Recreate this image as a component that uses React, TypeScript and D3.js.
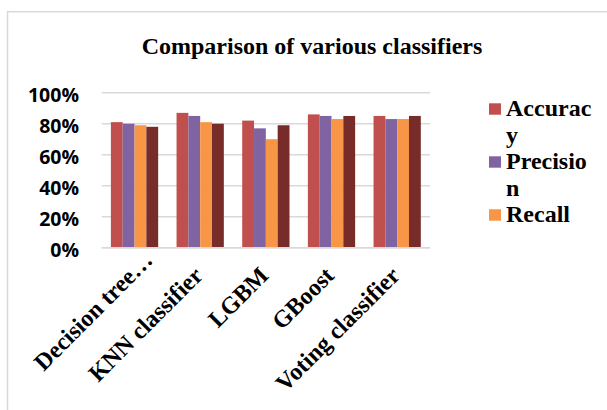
import React, { useMemo } from "react";
import * as d3 from "d3";

const W = 607;
const H = 410;

const categories = ["Decision tree\u2026", "KNN classifier", "LGBM", "GBoost", "Voting classifier"];
const seriesNames = ["Accuracy", "Precision", "Recall", "F1-score"];
const seriesColors = ["#C0504D", "#8064A2", "#F79646", "#772C2A"];
const accuracy = [0.81, 0.87, 0.82, 0.86, 0.85];
const precision = [0.80, 0.85, 0.77, 0.85, 0.83];
const recall = [0.79, 0.81, 0.70, 0.83, 0.83];
const f1score = [0.78, 0.80, 0.79, 0.85, 0.85];
const seriesValues = [accuracy, precision, recall, f1score];
const yTicks = [0, 0.2, 0.4, 0.6, 0.8, 1.0];
// entries that fit inside the legend box
const legendCount = 3;

const serif = "'Liberation Serif', 'Times New Roman', serif";
const sans = "'Open Sans', 'Liberation Sans', sans-serif";

function wrapText(text: string, maxWidth: number, font: string): string[] {
  const ctx = document.createElement("canvas").getContext("2d");
  if (!ctx) return [text];
  ctx.font = font;
  const lines: string[] = [];
  let cur = "";
  for (const ch of text) {
    if (cur && ctx.measureText(cur + ch).width > maxWidth) {
      lines.push(cur);
      cur = ch;
    } else {
      cur += ch;
    }
  }
  if (cur) lines.push(cur);
  return lines;
}

export default function App() {
  const plot = { left: 101.7, right: 430, top: 92.7, bottom: 247.7 };

  const x0 = d3
    .scaleBand<string>()
    .domain(categories)
    .range([plot.left, plot.right])
    .paddingInner(0.28)
    .paddingOuter(0.14);
  const x1 = d3
    .scaleBand<string>()
    .domain(seriesNames)
    .range([0, x0.bandwidth()]);
  const y = d3.scaleLinear().domain([0, 1]).range([plot.bottom, plot.top]);
  const fmt = d3.format(".0%");

  const legendLines = useMemo(
    () =>
      seriesNames
        .slice(0, legendCount)
        .map((n) => wrapText(n, 88, `bold 24px ${serif}`)),
    []
  );

  let lineIdx = 0;
  const lineH = 26.5;
  const legendTop = 116;

  return (
    <div style={{ position: "absolute", left: 0, top: 0 }}>
      <svg width={W} height={H} style={{ display: "block", background: "#fff" }}>
        {/* chart frame */}
        <rect x={7.5} y={11.7} width={620} height={420} fill="#fff" stroke="#D9D9D9" strokeWidth={1.5} />

        <text
          x={141.7}
          y={54.3}
          fontFamily={serif}
          fontWeight="bold"
          fontSize={24}
          fill="#000"
        >
          Comparison of various classifiers
        </text>

        {/* gridlines */}
        {yTicks.map((t) => (
          <line
            key={t}
            x1={plot.left}
            x2={plot.right}
            y1={y(t)}
            y2={y(t)}
            stroke="#D9D9D9"
            strokeWidth={1.5}
          />
        ))}

        {/* y tick labels */}
        {yTicks.map((t) => (
          <text
            key={t}
            x={79}
            y={y(t) + 1.5}
            textAnchor="end"
            dominantBaseline="central"
            fontFamily={sans}
            fontWeight="bold"
            fontSize={19.5}
            fill="#000"
          >
            {fmt(t)}
          </text>
        ))}

        {/* bars */}
        {categories.map((c, ci) => (
          <g key={c} transform={`translate(${x0(c)},0)`}>
            {seriesNames.map((s, si) => {
              const v = seriesValues[si][ci];
              return (
                <rect
                  key={s}
                  x={x1(s)}
                  y={y(v)}
                  width={x1.bandwidth()}
                  height={y(0) - y(v)}
                  fill={seriesColors[si]}
                />
              );
            })}
          </g>
        ))}

        {/* baseline */}
        <line x1={plot.left} x2={plot.right} y1={y(0)} y2={y(0)} stroke="#D9D9D9" strokeWidth={1.5} />

        {/* category labels, rotated; truncated ones run further along their slot */}
        {categories.map((c) => {
          const cx = (x0(c) ?? 0) + x0.bandwidth() / 2;
          const slide = c.endsWith("\u2026") ? 22 : 0;
          return (
            <text
              key={c}
              transform={`translate(${cx + 4},${277}) rotate(-45)`}
              x={slide}
              textAnchor="end"
              fontFamily={serif}
              fontWeight="bold"
              fontSize={24}
              fill="#000"
            >
              {c}
            </text>
          );
        })}

        {/* legend */}
        {legendLines.map((lines, si) => {
          const firstBase = legendTop + lineIdx * lineH;
          const g = (
            <g key={seriesNames[si]}>
              <rect x={489} y={firstBase - 12.7} width={12} height={11.4} fill={seriesColors[si]} />
              {lines.map((ln, li) => (
                <text
                  key={li}
                  x={506}
                  y={firstBase + li * lineH}
                  fontFamily={serif}
                  fontWeight="bold"
                  fontSize={24}
                  fill="#000"
                >
                  {ln}
                </text>
              ))}
            </g>
          );
          lineIdx += lines.length;
          return g;
        })}
      </svg>
    </div>
  );
}
